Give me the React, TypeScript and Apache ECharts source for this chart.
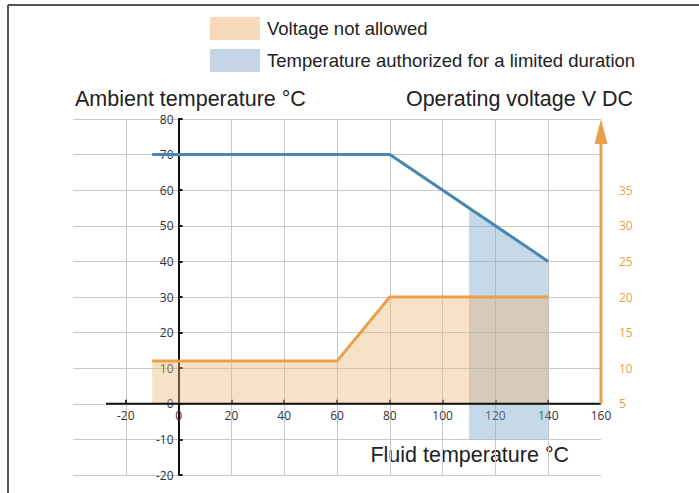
import React, { useEffect, useRef } from "react";
import * as echarts from "echarts";

// Data
const blueLine: [number, number][] = [[-10, 70], [80, 70], [140, 40]];
const orangeLine: [number, number][] = [[-10, 12], [60, 12], [80, 30], [140, 30]];
const blueZoneTop: [number, number][] = [[110, 55], [140, 40]];
const blueZoneBottom = -10;
const xTickLabels = [-20, 0, 20, 40, 60, 80, 100, 120, 140, 160];
const xTickMarks = [-20, 20, 40, 60, 80, 100, 120, 140];
const yTickLabels = [80, 70, 60, 50, 40, 30, 20, 10, 0, -10, -20];
const voltageLabels = [5, 10, 15, 20, 25, 30, 35];
const xAxisLineSpan: [number, number][] = [[-27.5, 0], [160, 0]];
const voltageAxisSpan = [5, 45];

const legendNames = ["Voltage not allowed", "Temperature authorized for a limited duration"];

const ORANGE = "#e9a04d";
const BLUE = "#4a86ad";
const GRID_L = 73;
const GRID_T = 119;
const GRID_W = 528;
const GRID_H = 356;
const X_MIN = -40;
const X_MAX = 160;
const Y_MIN = -20;
const Y_MAX = 80;
const V_MIN = -5;
const V_MAX = 45;
const ARROW_W = 13;
const ARROW_H = 25;

export default function App() {
  const ref = useRef<HTMLDivElement>(null);
  useEffect(() => {
    if (!ref.current) return;
    const chart = echarts.init(ref.current, undefined, { renderer: "svg" });
    const pxPerV = GRID_H / (V_MAX - V_MIN);
    const arrowCenterV = voltageAxisSpan[1] - ARROW_H / 2 / pxPerV;
    const yAxisShift = ((0 - X_MIN) / (X_MAX - X_MIN)) * GRID_W;
    const xAxisShift = ((0 - Y_MIN) / (Y_MAX - Y_MIN)) * GRID_H;
    const tickFont = { fontFamily: "Open Sans", fontSize: 12, color: "#333" };
    chart.setOption({
      animation: false,
      grid: { left: GRID_L, top: GRID_T, width: GRID_W, height: GRID_H, containLabel: false },
      legend: {
        orient: "vertical",
        left: 205,
        top: 12,
        itemWidth: 50,
        itemHeight: 23,
        itemGap: 9,
        selectedMode: false,
        textStyle: { fontFamily: "Liberation Sans", fontSize: 18.5, color: "#222", padding: [0, 0, 2, 2] },
        data: [
          { name: legendNames[0], icon: "rect", itemStyle: { color: "#f6dab9" } },
          { name: legendNames[1], icon: "rect", itemStyle: { color: "#c6d6e7" } },
        ],
      },
      xAxis: {
        type: "value",
        min: X_MIN,
        max: X_MAX,
        interval: 20,
        position: "bottom",
        offset: -xAxisShift,
        axisLine: { show: false, onZero: false },
        axisTick: {
          show: true,
          inside: true,
          length: 4,
          customValues: xTickMarks,
          lineStyle: { color: "#333", width: 2 },
        },
        axisLabel: { ...tickFont, margin: 6, customValues: xTickLabels },
        splitLine: { show: true, lineStyle: { color: "#c8c8c8", width: 1 } },
      },
      yAxis: [
        {
          type: "value",
          min: Y_MIN,
          max: Y_MAX,
          interval: 10,
          position: "left",
          offset: -yAxisShift,
          axisLine: { show: true, onZero: false, lineStyle: { color: "#111", width: 2 } },
          axisTick: { show: true, inside: true, length: 4, lineStyle: { color: "#111", width: 2 } },
          axisLabel: { ...tickFont, margin: 5, customValues: yTickLabels },
          splitLine: { show: true, lineStyle: { color: "#c8c8c8", width: 1 } },
        },
        {
          type: "value",
          position: "right",
          min: V_MIN,
          max: V_MAX,
          interval: 5,
          axisLine: { show: false },
          axisTick: { show: false },
          splitLine: { show: false },
          axisLabel: { fontFamily: "Open Sans", fontSize: 12, color: ORANGE, margin: 18, customValues: voltageLabels },
        },
      ],
      graphic: [
        { type: "line", shape: { x1: 8, y1: 5, x2: 699, y2: 5 }, style: { stroke: "#555", lineWidth: 2 } },
        { type: "line", shape: { x1: 8, y1: 5, x2: 8, y2: 493 }, style: { stroke: "#555", lineWidth: 2 } },
        {
          type: "text",
          left: 75,
          top: 88,
          style: { text: "Ambient temperature °C", fontFamily: "Liberation Sans", fontSize: 21.5, fill: "#222" },
        },
        {
          type: "text",
          right: 699 - 633,
          top: 88,
          style: { text: "Operating voltage V DC", fontFamily: "Liberation Sans", fontSize: 21.5, fill: "#222" },
        },
        {
          type: "text",
          right: 699 - 569,
          top: 444,
          style: { text: "Fluid temperature °C", fontFamily: "Liberation Sans", fontSize: 21.5, fill: "#222" },
        },
      ],
      series: [
        {
          name: legendNames[1],
          type: "line",
          data: blueZoneTop,
          symbol: "none",
          lineStyle: { width: 0, opacity: 0 },
          itemStyle: { color: "#c6d6e7" },
          areaStyle: { color: "rgba(120,165,200,0.42)", origin: blueZoneBottom, opacity: 1 },
          z: 2,
        },
        {
          name: legendNames[0],
          type: "line",
          data: orangeLine,
          symbol: "none",
          lineStyle: { color: ORANGE, width: 3 },
          itemStyle: { color: "#f6dab9" },
          areaStyle: { color: "rgba(236,179,115,0.4)", origin: 0, opacity: 1 },
          z: 3,
        },
        {
          name: "Ambient limit",
          type: "line",
          data: blueLine,
          symbol: "none",
          lineStyle: { color: BLUE, width: 3 },
          itemStyle: { color: BLUE },
          z: 4,
        },
        {
          name: "x axis line",
          type: "line",
          data: xAxisLineSpan,
          symbol: "none",
          lineStyle: { color: "#111", width: 2 },
          z: 5,
          silent: true,
        },
        {
          name: "voltage axis",
          type: "line",
          yAxisIndex: 1,
          data: [[160, voltageAxisSpan[0]], [160, arrowCenterV]],
          symbol: "none",
          lineStyle: { color: ORANGE, width: 3 },
          z: 5,
          silent: true,
        },
        {
          name: "voltage arrow",
          type: "scatter",
          yAxisIndex: 1,
          data: [[160, arrowCenterV]],
          symbol: "triangle",
          symbolSize: [ARROW_W, ARROW_H],
          itemStyle: { color: ORANGE, opacity: 1 },
          z: 6,
          silent: true,
        },
      ],
    });
    return () => chart.dispose();
  }, []);
  return (
    <div
      ref={ref}
      style={{ position: "absolute", left: 0, top: 0, width: 699, height: 493, background: "#fff" }}
    />
  );
}
